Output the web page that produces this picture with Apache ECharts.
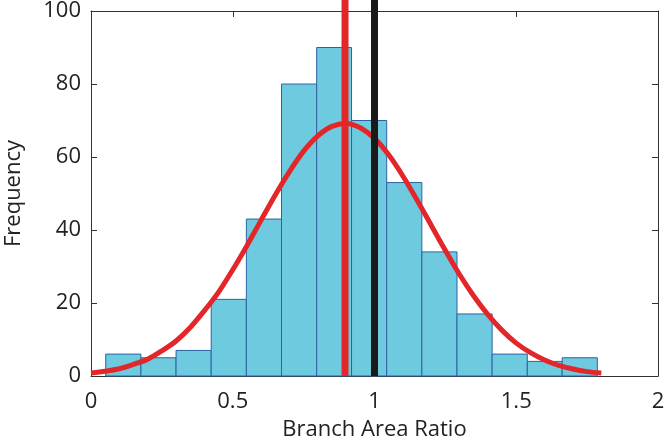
<!DOCTYPE html>
<html>
<head>
<meta charset="utf-8">
<script src="https://cdn.jsdelivr.net/npm/echarts@6/dist/echarts.min.js"></script>
<style>
html,body{margin:0;padding:0;background:#fff;}
#chart{width:666px;height:443px;}
</style>
</head>
<body>
<div id="chart"></div>
<script>
// Histogram bin edges (Branch Area Ratio) and counts
const binEdges = [0.052, 0.176, 0.300, 0.424, 0.548, 0.672, 0.796, 0.919, 1.043, 1.167, 1.291, 1.415, 1.539, 1.662, 1.786];
const counts = [6, 5, 7, 21, 43, 80, 90, 70, 53, 34, 17, 6, 4, 5];

// Fitted normal curve
const curveX = [0, 0.05, 0.1, 0.15, 0.2, 0.25, 0.3, 0.35, 0.4, 0.45, 0.5, 0.55, 0.6, 0.65, 0.7, 0.75, 0.8, 0.85, 0.9,
                0.95, 1.0, 1.05, 1.1, 1.15, 1.2, 1.25, 1.3, 1.35, 1.4, 1.45, 1.5, 1.55, 1.6, 1.65, 1.7, 1.75, 1.8];
const curveY = [0.8, 1.3, 2.0, 3.2, 4.6, 6.9, 9.6, 13.3, 17.9, 23.0, 29.1, 35.7, 42.7, 49.6, 56.0, 61.6, 65.8, 68.4, 69.2,
                68.0, 65.1, 60.6, 54.8, 48.2, 41.3, 34.4, 27.8, 21.9, 16.8, 12.5, 9.0, 6.4, 4.4, 2.9, 1.9, 1.2, 0.8];

// Vertical reference lines
const meanX = 0.896;
const refX = 1.0;
const lineTop = 103;

const xTicks = [0, 0.5, 1, 1.5, 2];
const yTicks = [0, 20, 40, 60, 80, 100];

const bars = counts.map((c, i) => [binEdges[i], binEdges[i + 1], c]);
const curve = curveX.map((x, i) => [x, curveY[i]]);

const font = '"Open Sans", sans-serif';
const axisColor = '#333';

const chart = echarts.init(document.getElementById('chart'));
chart.setOption({
  animation: false,
  grid: {left: 91, right: 8, top: 11, bottom: 67, containLabel: false, outerBoundsMode: 'none'},
  xAxis: [{
    type: 'value', min: xTicks[0], max: xTicks[xTicks.length - 1], interval: 0.5,
    position: 'bottom',
    name: 'Branch Area Ratio', nameLocation: 'middle', nameGap: 43,
    nameTextStyle: {fontFamily: font, fontSize: 22, color: '#222'},
    axisLine: {lineStyle: {color: axisColor, width: 1}},
    axisTick: {inside: true, length: 6, lineStyle: {color: axisColor}},
    axisLabel: {fontFamily: font, fontSize: 22, color: '#222', margin: 15},
    splitLine: {show: false}
  }, {
    type: 'value', min: xTicks[0], max: xTicks[xTicks.length - 1], interval: 0.5,
    position: 'top',
    axisLine: {show: true, onZero: false, lineStyle: {color: axisColor, width: 1}},
    axisTick: {inside: true, length: 6, lineStyle: {color: axisColor}},
    axisLabel: {show: false},
    splitLine: {show: false}
  }],
  yAxis: [{
    type: 'value', min: 0, max: 100, interval: 20,
    position: 'left',
    name: 'Frequency', nameLocation: 'middle', nameGap: 66,
    nameTextStyle: {fontFamily: font, fontSize: 22, color: '#222'},
    axisLine: {show: true, lineStyle: {color: axisColor, width: 1}},
    axisTick: {show: true, inside: true, length: 6, lineStyle: {color: axisColor}},
    axisLabel: {fontFamily: font, fontSize: 22, color: '#222', margin: 10},
    splitLine: {show: false}
  }, {
    type: 'value', min: 0, max: 100, interval: 20,
    position: 'right',
    axisLine: {show: true, onZero: false, lineStyle: {color: axisColor, width: 1}},
    axisTick: {show: true, inside: true, length: 6, lineStyle: {color: axisColor}},
    axisLabel: {show: false},
    splitLine: {show: false}
  }],
  series: [{
    type: 'custom',
    data: bars,
    encode: {x: [0, 1], y: 2},
    renderItem: function (params, api) {
      const p0 = api.coord([api.value(0), api.value(2)]);
      const p1 = api.coord([api.value(1), 0]);
      return {
        type: 'rect',
        shape: {x: p0[0], y: p0[1], width: p1[0] - p0[0], height: p1[1] - p0[1]},
        style: {fill: '#6DCADF', stroke: '#2F62A3', lineWidth: 1}
      };
    },
    z: 2
  }, {
    type: 'line',
    data: [[meanX, 0], [meanX, lineTop]],
    symbol: 'none', clip: false,
    lineStyle: {color: '#E2262A', width: 7},
    z: 3
  }, {
    type: 'line',
    data: curve,
    smooth: 0.3,
    symbol: 'none',
    lineStyle: {color: '#E2262A', width: 5},
    z: 4
  }, {
    type: 'line',
    data: [[refX, 0], [refX, lineTop]],
    symbol: 'none', clip: false,
    lineStyle: {color: '#1A1A1A', width: 7},
    z: 5
  }]
});
</script>
</body>
</html>
